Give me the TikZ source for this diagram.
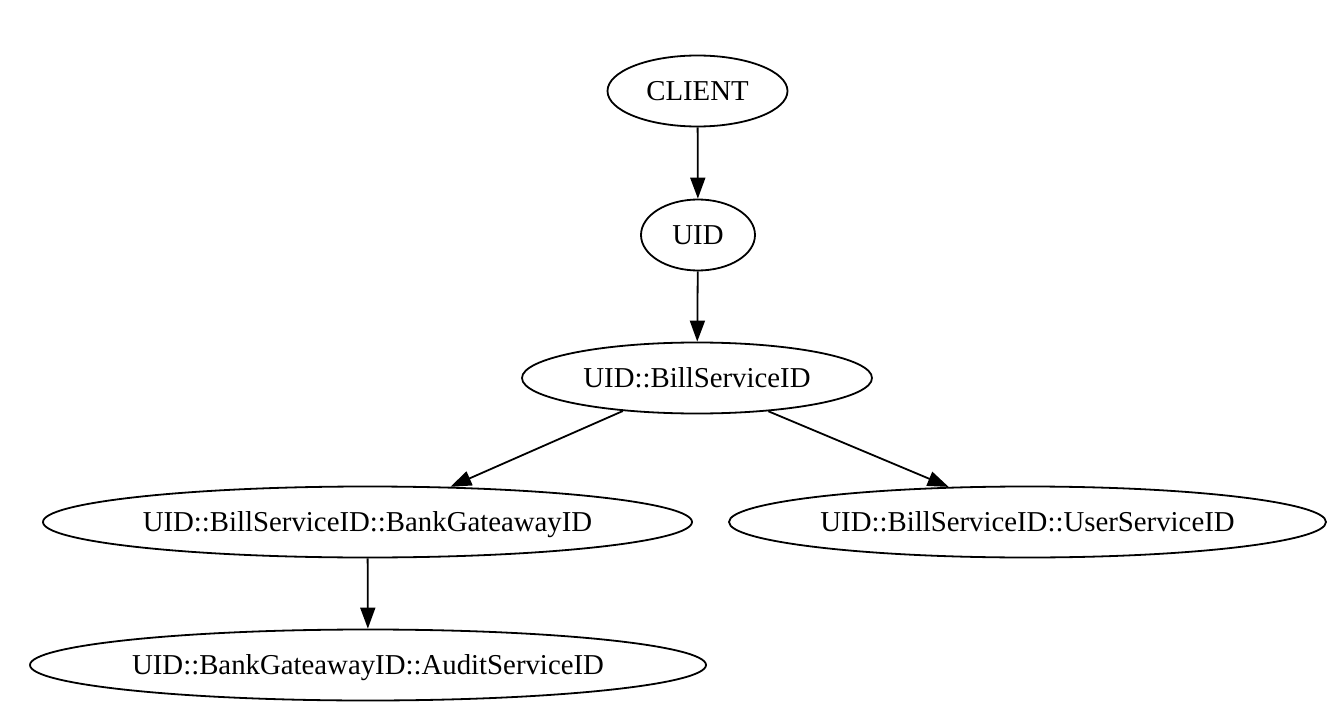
\documentclass[tikz,border=0pt]{standalone}
\usepackage{fontspec}
\setmainfont{Liberation Serif}
\usetikzlibrary{shapes.geometric,arrows.meta}
\begin{document}
\begin{tikzpicture}[x=0.5pt,y=-0.5pt,
  gnode/.style={draw,ellipse,line width=0.9pt,inner sep=0pt,minimum height=35.5pt,text height=9.4pt,text depth=0pt,font=\fontsize{14.4pt}{16pt}\selectfont},
  gedge/.style={line width=0.9pt,-{Triangle[length=10.5pt,width=7.5pt]}}]
\useasboundingbox (0,0) rectangle (1340,722);
\node[gnode,minimum width=90pt] (client) at (697.5,91) {CLIENT};
\node[gnode,minimum width=57pt] (uid) at (698,235) {UID};
\node[gnode,minimum width=175pt] (bs) at (697,378) {UID::BillServiceID};
\node[gnode,minimum width=324.5pt] (bank) at (367.5,522) {UID::BillServiceID::BankGateawayID};
\node[gnode,minimum width=298.5pt] (user) at (1027.5,522) {UID::BillServiceID::UserServiceID};
\node[gnode,minimum width=338pt] (audit) at (368,665) {UID::BankGateawayID::AuditServiceID};
\draw[gedge] (client) -- (uid);
\draw[gedge] (uid) -- (bs);
\draw[gedge] (bs.204.7) -- (bank.23.6);
\draw[gedge] (bs.335.6) -- (user.156.8);
\draw[gedge] (bank) -- (audit);
\end{tikzpicture}
\end{document}
